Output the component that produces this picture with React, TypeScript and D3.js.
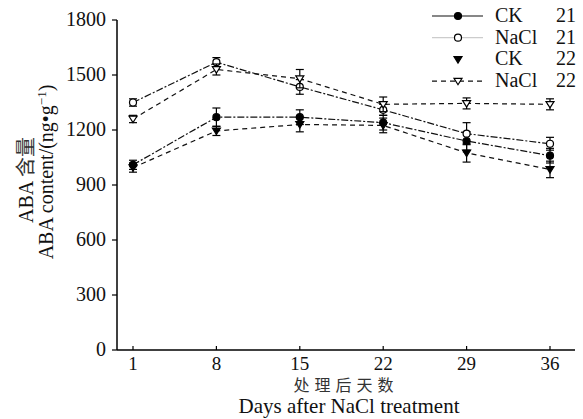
import React from "react";
import * as d3 from "d3";

const days = [1, 8, 15, 22, 29, 36];
const yTicks = [0, 300, 600, 900, 1200, 1500, 1800];

const ck21 = [1010, 1270, 1270, 1240, 1140, 1060];
const ck21Err = [25, 50, 40, 40, 50, 40];
const nacl21 = [1350, 1570, 1435, 1310, 1180, 1125];
const nacl21Err = [20, 25, 40, 30, 60, 35];
const ck22 = [995, 1195, 1230, 1225, 1075, 985];
const ck22Err = [25, 25, 40, 40, 50, 45];
const nacl22 = [1260, 1530, 1480, 1340, 1345, 1340];
const nacl22Err = [20, 30, 50, 40, 30, 30];

const seriesNames = ["CK", "NaCl", "CK", "NaCl"];
const seriesYears = ["21", "21", "22", "22"];

type S = {
  vals: number[];
  err: number[];
  marker: "circle" | "tri";
  filled: boolean;
  dash: string;
  legendStroke: string;
  legendDash: string;
};

const series: S[] = [
  { vals: ck21, err: ck21Err, marker: "circle", filled: true, dash: "7,2,2,2", legendStroke: "#111", legendDash: "" },
  { vals: nacl21, err: nacl21Err, marker: "circle", filled: false, dash: "7,2,2,2", legendStroke: "#ccc", legendDash: "" },
  { vals: ck22, err: ck22Err, marker: "tri", filled: true, dash: "5,4", legendStroke: "none", legendDash: "" },
  { vals: nacl22, err: nacl22Err, marker: "tri", filled: false, dash: "5,4", legendStroke: "#111", legendDash: "5,4" },
];

const FONT = "'Liberation Serif', 'Times New Roman', serif";
const CJK = "'Noto Sans CJK SC', sans-serif";

function Marker({ cx, cy, s }: { cx: number; cy: number; s: S }) {
  const fill = s.filled ? "#000" : "#fff";
  if (s.marker === "circle") {
    return <circle cx={cx} cy={cy} r={3.5} fill={fill} stroke="#000" strokeWidth={1.2} />;
  }
  const r = 4;
  const pts = `${cx - r},${cy - r * 0.7} ${cx + r},${cy - r * 0.7} ${cx},${cy + r * 0.9}`;
  return <polygon points={pts} fill={fill} stroke="#000" strokeWidth={1.2} />;
}

export default function App() {
  const W = 583;
  const H = 419;
  const x = d3.scaleLinear().domain([1, 36]).range([133, 550]);
  const y = d3.scaleLinear().domain([0, 1800]).range([350, 20]);
  const line = d3
    .line<number>()
    .x((_, i) => x(days[i]))
    .y((v) => y(v));

  return (
    <svg
      width={W}
      height={H}
      style={{ position: "absolute", left: 0, top: 0, background: "#fff" }}
      fontFamily={FONT}
    >
      {/* axes */}
      <line x1={117} x2={117} y1={y(1800)} y2={350} stroke="#000" strokeWidth={1.5} />
      <line x1={117} x2={575} y1={350} y2={350} stroke="#000" strokeWidth={1.5} />
      {yTicks.map((t) => (
        <g key={"y" + t}>
          <line x1={112} x2={117} y1={y(t)} y2={y(t)} stroke="#000" strokeWidth={1.2} />
          <text x={106} y={y(t) + 6} textAnchor="end" fontSize={20} fill="#111">
            {t}
          </text>
        </g>
      ))}
      {days.map((d) => (
        <g key={"x" + d}>
          <line x1={x(d)} x2={x(d)} y1={350} y2={346} stroke="#000" strokeWidth={1.2} />
          <text x={x(d)} y={370} textAnchor="middle" fontSize={19} fill="#111">
            {d}
          </text>
        </g>
      ))}
      {/* axis titles */}
      <text x={346} y={391} textAnchor="middle" fontSize={16} letterSpacing={5} fontFamily={CJK} fill="#333">
        处理后天数
      </text>
      <text x={349} y={413} textAnchor="middle" fontSize={21} fill="#111">
        Days after NaCl treatment
      </text>
      <text transform="translate(33,180) rotate(-90)" textAnchor="middle" fontSize={20} fill="#111">
        ABA <tspan fontFamily={CJK} fill="#333">含量</tspan>
      </text>
      <text transform="translate(53,172) rotate(-90)" textAnchor="middle" fontSize={20} fill="#111">
        ABA content/(ng•g
        <tspan dy={-7} fontSize={13}>−1</tspan>
        <tspan dy={7}>)</tspan>
      </text>

      {/* series */}
      {series.map((s, si) => (
        <g key={"s" + si}>
          <path d={line(s.vals) || ""} fill="none" stroke="#111" strokeWidth={1.2} strokeDasharray={s.dash} />
          {s.vals.map((v, i) => {
            const cx = x(days[i]);
            const top = y(v + s.err[i]);
            const bot = y(v - s.err[i]);
            return (
              <g key={i}>
                <line x1={cx} x2={cx} y1={top} y2={bot} stroke="#000" strokeWidth={1.2} />
                <line x1={cx - 4} x2={cx + 4} y1={top} y2={top} stroke="#000" strokeWidth={1.2} />
                <line x1={cx - 4} x2={cx + 4} y1={bot} y2={bot} stroke="#000" strokeWidth={1.2} />
              </g>
            );
          })}
          {s.vals.map((v, i) => (
            <Marker key={"m" + i} cx={x(days[i])} cy={y(v)} s={s} />
          ))}
        </g>
      ))}

      {/* legend */}
      {series.map((s, si) => {
        const ly = 16 + si * 21.7;
        return (
          <g key={"l" + si}>
            {s.legendStroke !== "none" && (
              <line x1={432} x2={483} y1={ly} y2={ly} stroke={s.legendStroke} strokeWidth={1.2} strokeDasharray={s.legendDash} />
            )}
            <Marker cx={458} cy={ly} s={s} />
            <text x={495} y={ly + 6} fontSize={20} fill="#111">
              {seriesNames[si]}
            </text>
            <text x={576} y={ly + 6} fontSize={20} textAnchor="end" fill="#111">
              {seriesYears[si]}
            </text>
          </g>
        );
      })}
    </svg>
  );
}
